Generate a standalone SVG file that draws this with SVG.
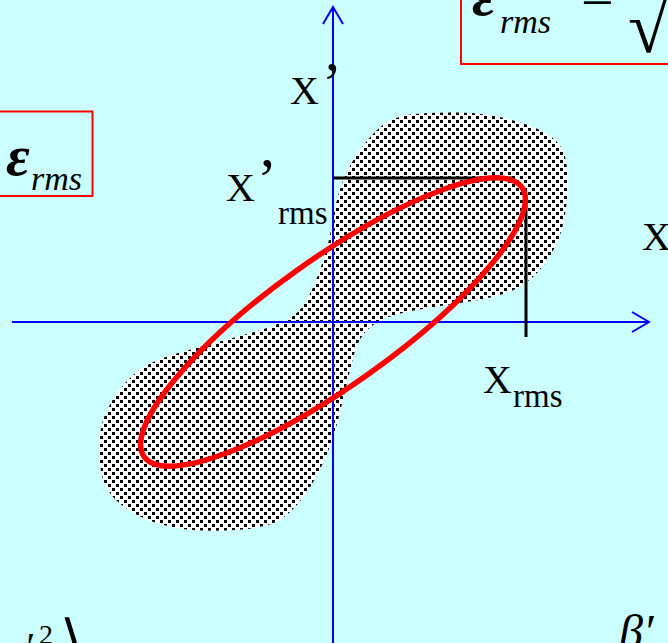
<svg xmlns="http://www.w3.org/2000/svg" width="668" height="643" viewBox="0 0 668 643">
<style>
.t{font-family:"Liberation Serif","Times New Roman",serif;fill:#000}
.i{font-style:italic}
.eps{font-weight:bold}
.box{fill:none;stroke:#FF0000;stroke-width:2}
.axis{fill:none;stroke:#0000FF;stroke-width:2}
.blk{fill:none;stroke:#000;stroke-width:3}
</style>
<defs>
<pattern id="dots" x="0" y="0" width="8" height="8" patternUnits="userSpaceOnUse">
<rect width="8" height="8" fill="#FFFFFF"/>
<rect x="0" y="0" width="3" height="3" fill="#000"/>
<rect x="4" y="4" width="3" height="3" fill="#000"/>
</pattern>
</defs>
<rect width="668" height="643" fill="#CCFFFF"/>
<g id="blob">
<path fill="url(#dots)" d="M 376,131 Q 390,117 410,114.5 Q 430,112 458.5,112.5 Q 487,113 513.5,120.5 Q 540,128 551,136.5 Q 562,145 565,156.5 Q 568,168 567.5,189 Q 567,210 562,228.5 Q 557,247 545,263.5 Q 533,280 516.5,288.5 Q 500,297 466.5,302 Q 433,307 414,310.5 Q 395,314 383.5,319 Q 372,324 364.5,333 Q 357,342 353.5,356 Q 350,370 346.5,385 Q 343,400 338,420 Q 333,440 325,458.5 Q 317,477 307,492 Q 297,507 283.5,517.5 Q 270,528 235,530 Q 200,532 177.5,528 Q 155,524 140,516.5 Q 125,509 115.5,499.5 Q 106,490 102.5,477.5 Q 99,465 99,447.5 Q 99,430 104.5,416 Q 110,402 121.5,387.5 Q 133,373 146.5,365.5 Q 160,358 180,352.5 Q 200,347 220,341.5 Q 240,336 257.5,331 Q 275,326 286.5,320 Q 298,314 304,304.5 Q 310,295 315.5,281.5 Q 321,268 325.5,253 Q 330,238 332,224 Q 334,210 338.5,194 Q 343,178 352.5,161.5 Q 362,145 376,131 Z"/>
</g>
<g id="connectors">
<line class="axis" x1="333" y1="643" x2="333" y2="7"/>
<polyline class="axis" points="323,24 333,7 343,24"/>
<line class="axis" x1="12" y1="322" x2="649" y2="322"/>
<polyline class="axis" points="632,312 649,322 632,332"/>
<line class="blk" x1="333" y1="178" x2="512" y2="178"/>
<line class="blk" x1="526" y1="195" x2="526" y2="337"/>
</g>
<g id="ellipse">
<ellipse cx="333" cy="322" rx="232" ry="63" transform="rotate(-35.5 333 322)" fill="none" stroke="#FF0000" stroke-width="5.5"/>
</g>
<g id="box-top">
<rect class="box" x="461" y="-10" width="220" height="74"/>
<text class="t i eps" x="472" y="15" font-size="58">ε</text>
<text class="t i" x="500" y="33" font-size="34">rms</text>
<text class="t" x="581" y="16" font-size="58">=</text>
<text class="t" x="628" y="52" font-size="74">√</text>
</g>
<g id="box-left">
<rect class="box" x="-10" y="111.5" width="102.5" height="84.5"/>
<text class="t i eps" x="6" y="175" font-size="58">ε</text>
<text class="t i" x="31" y="190" font-size="34">rms</text>
</g>
<g id="labels">
<text class="t" x="290" y="104" font-size="40">X</text>
<text class="t" x="322" y="103" font-size="60">’</text>
<text class="t" x="226" y="201" font-size="40">X</text>
<text class="t" x="257" y="199" font-size="60">’</text>
<text class="t" x="278" y="224" font-size="33">rms</text>
<text class="t" x="483" y="393" font-size="40">X</text>
<text class="t" x="513" y="407" font-size="33">rms</text>
<text class="t" x="642" y="250" font-size="40">X</text>
<text class="t i" x="619" y="648" font-size="48">β′</text>
<text class="t i" x="24" y="660" font-size="40">′</text>
<text class="t" x="39" y="644" font-size="28">2</text>
<text x="60" y="660" font-size="56" font-family="DejaVu Serif, serif">⟩</text>
</g>
</svg>
